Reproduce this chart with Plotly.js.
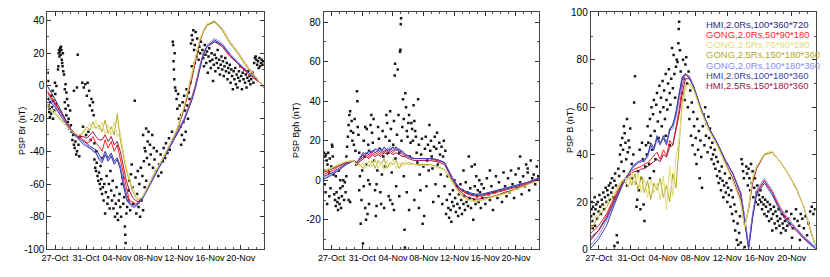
<!DOCTYPE html>
<html><head><meta charset="utf-8">
<script src="https://cdn.plot.ly/plotly-3.0.1.min.js"></script>
<style>html,body{margin:0;padding:0;background:#fff}#chart{width:830px;height:277px}</style>
</head><body><div id="chart"></div>
<script>
// x unit: days from the left edge of each panel (26-Oct-2018 .. 23-Nov-2018)
const dayGrid = [0,1,2,3,4, 4.4,4.8,5.2,5.6,6, 6.4,6.8,7.2,7.6,8, 8.4,8.8,9.2,9.6,10, 10.4,10.8,11.2,11.6,12, 12.5,13,14,15,16, 17,18,19,19.5,20, 20.5,21,22,23,24, 25,26,27,28,28.5];
const xTickVals = [1.02,5.09,9.16,13.23,17.3,21.38,25.45];
const xTickText = ['27-Oct','31-Oct','04-Nov','08-Nov','12-Nov','16-Nov','20-Nov'];

const modelNames = ['HMI,2.0Rs,100*360*720','GONG,2.0Rs,50*90*180','GONG,2.5Rs,75*90*180','GONG,2.5Rs,150*180*360','GONG,2.0Rs,100*180*360','HMI,2.0Rs,100*180*360','HMI,2.5Rs,150*180*360'];
const modelColors = ['#2b2b80','#ff1f1f','#e3dc78','#b3a82a','#8a8aff','#3f3fa6','#a3163f'];

// ---- Br models
const brHmi720  = [0,-8,-17,-26,-31, -33,-34,-35,-37,-38, -39,-42,-45,-40,-44, -41,-46,-44,-49,-58, -66,-71,-73,-73,-71, -68,-64,-55,-47,-38, -30,-21,-8,0,10, 19,24,28,25,19, 14,10,6,2,-1];
const brGong50  = [-3,-10,-18,-26,-31, -32,-33,-35,-34,-31, -35,-37,-40,-33,-38, -34,-40,-36,-45,-55, -62,-70,-71,-72,-72, -69,-64,-55,-47,-38, -29,-20,-7,1,11, 20,24,27,24,18, 14,9,5,2,-1];
const brGong75  = [-11,-16,-21,-27,-30, -29,-27,-26,-23,-26, -21,-27,-22,-30,-24, -30,-22,-31,-28,-40, -50,-56,-62,-66,-69, -68,-63,-54,-46,-37, -27,-12,8,18,28, 34,38,40,35,27, 21,14,8,2,-1];
const brGong150 = [-13,-17,-22,-27,-30, -30,-28,-25,-27,-22, -26,-24,-28,-21,-29, -25,-30,-17,-33,-42, -52,-58,-64,-68,-70, -68,-63,-54,-46,-37, -27,-13,7,17,27, 33,37,39,34,26, 20,13,7,2,-1];
const brGong100 = [-6,-12,-19,-27,-32, -33,-35,-36,-38,-39, -41,-44,-46,-41,-45, -42,-47,-45,-50,-60, -68,-72,-73,-73,-72, -69,-64,-55,-47,-38, -29,-20,-8,0,10, 20,25,29,26,20, 15,10,6,2,-1];
const brHmi180  = [-8,-13,-20,-27,-32, -34,-36,-37,-38,-40, -41,-45,-47,-42,-46, -43,-48,-45,-51,-61, -69,-72,-74,-74,-72, -69,-65,-56,-48,-39, -30,-21,-9,-1,9, 19,24,27,25,19, 14,10,6,2,-1];
const brHmi25   = [-4,-11,-18,-26,-31, -31,-31,-32,-30,-28, -31,-33,-33,-30,-34, -31,-36,-34,-40,-50, -58,-64,-68,-70,-71, -69,-64,-55,-46,-37, -28,-14,4,15,26, 33,37,39.5,35,27, 21,14,8,2,-1];

// ---- Bph models
const bphHmi720  = [2,3.5,6,8.5,10, 9,11,13,14,13, 15,14,15,16,14, 16,15,17,15,16, 14,13,12,11.5,11, 11,11,11,10.5,9, 1.5,-4.5,-6.5,-7,-7.5, -7.5,-7.5,-6.5,-5.5,-4.5, -3.5,-2.5,-1,0.5,1];
const bphGong50  = [3,4.5,7,9,10, 8.5,10,12,13,12, 14,13,14,13,15, 14,15,14,16,15, 13,12.5,12,11,11, 11,11,11,10,9, 1.5,-4.5,-7,-7.5,-8, -8,-8,-7,-6,-5, -4,-3,-1.5,0,1];
const bphGong75  = [5,6.5,8,9.5,10, 7.5,7,9,6,10, 7,11,6,9,5, 10,7,11,6,9, 7,10,8,8,8, 7.5,7.5,7.5,6.5,5, -1,-7,-10,-10.5,-10.5, -10.5,-10.3,-9,-8,-7, -5.5,-4,-2.5,-1,0];
const bphGong150 = [4.5,6,8,9.5,10, 8,8,6,9,7, 10,6,10,8,11, 6,9,8,10,6, 9,8,9,8.5,8, 8,8,8,7,5.5, -0.5,-6.5,-9.5,-10,-10.3, -10.3,-10,-8.5,-7.5,-6.5, -5,-3.5,-2,-0.5,0];
const bphGong100 = [1,3,5.5,8,10, 9,12,13,14,14, 15,15,16,15,16, 15,17,16,16,15, 14,13,12,11,11, 11,11,11,10.5,9, 1.5,-4,-6,-6.5,-7, -7,-7,-6,-5,-4, -3,-2,-1,0.5,1];
const bphHmi180  = [0.5,2.5,5,8,10, 9,11,14,13,15, 14,16,15,14,17, 15,16,15,17,14, 15,13,12.5,11.5,11, 11,11,11,10.5,9, 1,-4,-6,-6.5,-7, -7,-7,-6,-5,-4, -3,-2,-1,0.5,1];
const bphHmi25   = [4,5.5,7.5,9,10, 8,9.5,11,12,11, 13,12,13,12,14, 13,14,13,14,13, 12,12,11,10.5,10, 10,10,10,9.5,8, 0.5,-5.5,-8.5,-9,-9.5, -9.5,-9,-8.5,-7.5,-6, -5,-3.5,-2,-0.5,0.5];

// ---- |B| models
const bHmi720  = [5,8,13,20,27, 30,32,34,35.5,36.5, 37,38,39,45,43, 47,44,48,45,51, 52,58,65,72,74, 73,69,59,51,45, 38,32,24,13,1, 14,24,29,24,17, 12,9,5,2,0.5];
const bGong50  = [6.8,10,15,22,28, 30,31,33,34,34.5, 35,36,36.5,38,39.5, 41,38,42,39.5,46, 44,52,59,69,74, 73,69,59,51,45, 38,32,24,13,1, 14,24,29,24,17, 12,8.5,5,2,0.5];
const bGong75  = [11.8,15.3,19.5,24.5,29.5, 30,26,33,27,32, 24,30,22,29.5,23.8, 28,21,31,16.7,35, 22.4,39,46.5,60,67.5, 69.5,67.5,58,50,44, 36.5,29,20,9,18, 30,35,40.5,41.5,37, 32,26.5,18,6.5,1];
const bGong150 = [8.2,13.9,18,23,29, 28,31,27,32,25, 31,24,29,21,28, 25,30,22,27,20, 32,26,44,63,69, 70,68,58,50,44, 36.5,29,20,9,18, 30,35,40,41,37, 32,26,18,6,1];
const bGong100 = [1.8,6,12,19.5,27, 30,32,34,35.5,36.5, 37,38,39,43,42, 46,44,47,45,50, 51,56,63,70,74, 73,69,59,51,45, 38,32,24,14,2, 15,25,30,25,18, 13,9,5.5,2.5,0.5];
const bHmi180  = [0.5,4.5,10,19,27, 30,32,34.5,36,37, 37.5,37,40,44,42, 48,45,47,44,50, 53,57,66,73,74, 72,69,59,51,45, 38,32,23,12,0, 13,23,28,23,16, 11,8,4.5,1.5,0.3];
const bHmi25   = [4,8,14,21,28, 30,31,32,33,33, 34,34,35,36,37, 38,37,40,39,43, 44,50,57,66,72, 72,69,59,51,45, 37,30,21,10,17, 28,34,40,41,37, 32,26,18,6,1.5];

// ---- PSP observations [day, value]
const brObs = [[0.05,8],[0.1,3],[0.15,-8],[0.2,-12],[0.25,-16],[0.3,-14],[0.35,-19],[0.4,-10],[0.5,-17],[0.55,-6],[0.6,-13],[0.7,-3],[0.75,-20],[0.8,-9],[0.9,-15],[1.0,2],[1.05,-5],[1.1,-11],[1.2,0],
[1.4,10],[1.45,12],[1.5,20],[1.55,22],[1.6,18],[1.65,21],[1.7,23],[1.75,19],[1.8,24],[1.85,22],[1.9,16],[1.95,14],[2.0,12],[2.05,20],[2.1,9],[2.2,7],[2.3,-2],[2.4,1],[2.5,-4],
[2.3,-10],[2.4,-14],[2.5,-18],[2.6,-8],[2.7,-22],[2.75,-12],[2.8,-20],[2.9,-26],[3.0,-15],[3.1,-24],[3.2,-28],
[3.3,-33],[3.4,-30],[3.5,-36],[3.5,-3],[3.6,-38],[3.7,-34],[3.8,-42],[3.9,-40],[3.9,-1],[4.0,19],[4.1,-36],[4.2,-43],[4.3,-31],
[4.6,2],[4.7,-25],[4.8,-1],[5.0,1],[5.1,-30],[5.2,-6],[5.3,2],[5.4,-28],[5.5,-3],[5.6,-12],[5.7,-33],[5.8,-8],[5.9,-15],[6.0,-10],[6.1,-18],[6.2,-35],
[6.2,-45],[6.3,-50],[6.4,-52],[6.45,-40],[6.5,-47],[6.6,-55],[6.7,-58],[6.8,-53],[6.9,-60],[7.0,-63],[7.0,-49],[7.1,-57],[7.2,-66],[7.25,-44],[7.3,-62],[7.4,-70],[7.5,-60],[7.6,-78],[7.7,-65],[7.8,-55],[7.9,-72],[8.0,-68],[8.1,-60],[8.2,-75],[8.3,-52],[8.4,-64],[8.5,-70],
[8.6,-58],[8.7,-75],[8.8,-67],[8.9,-80],[9.0,-72],[9.1,-62],[9.2,-78],[9.3,-82],[9.4,-70],[9.5,-66],[9.6,-74],[9.7,-80],[9.8,-60],[9.9,-56],[10.0,-72],[10.1,-68],[10.2,-86],[10.25,-91],[10.3,-96],[10.4,-78],[10.5,-74],[10.6,-70],[10.7,-64],[10.8,-58],[10.9,-76],[11.0,-54],
[11.1,-48],[11.2,-62],[11.3,-72],[11.5,-9],[11.6,-56],[11.7,-78],[11.8,-66],[11.9,-52],[12.0,-74],[12.1,-60],[12.2,-80],[12.3,-50],[12.4,-70],[12.5,-55],[12.6,-76],[12.7,-46],[12.8,-62],[12.9,-40],[13.0,-58],
[12.6,-30],[12.8,-38],[13.0,-26],[13.1,-44],[13.2,-34],[13.3,-28],[13.4,-48],[13.5,-36],[13.6,-42],[13.8,-30],[13.9,-50],[14.0,-38],
[14.1,-45],[14.3,-52],[14.4,-40],[14.6,-55],[14.7,-48],[14.9,-42],[15.0,-53],[15.2,-46],[15.3,-38],[15.5,-44],[15.6,-35],[15.8,-41],[16.0,-32],[16.1,-39],
[16.4,-28],[16.5,27],[16.55,25],[16.6,15],[16.65,10],[16.7,4],[16.75,20],[16.8,-1],[16.9,-3],
[17.0,-8],[17.1,-14],[17.2,-5],[17.3,-20],[17.4,-12],[17.5,-25],[17.6,-18],[17.6,-36],[17.7,-30],[17.8,-10],[17.9,-22],[18.0,-6],[18.0,-33],[18.1,-15],[18.2,-28],[18.3,-2],[18.4,-12],[18.5,-20],[18.6,-4],[18.7,-8],[18.8,2],
[18.9,26],[19.0,31],[19.0,12],[19.1,28],[19.2,34],[19.3,22],[19.4,25],[19.4,14],[19.5,33],[19.6,18],[19.7,29],[19.8,21],[19.9,16],[20.0,24],[20.1,20],[20.2,27],
[20.4,22],[20.5,17],[20.6,12],[20.7,25],[20.8,19],[20.9,14],[21.0,21],[21.1,8],[21.2,18],[21.3,23],[21.4,15],[21.5,11],[21.6,20],[21.7,16],[21.8,3],[21.9,13],[22.0,19],[22.1,9],[22.2,17],[22.3,14],[22.4,22],[22.5,11],[22.6,16],[22.7,7],[22.8,13],[22.9,18],[23.0,10],[23.1,15],[23.2,6],[23.3,12],[23.4,17],[23.5,9],[23.6,14],[23.7,4],[23.8,11],[23.9,8],[24.0,13],[24.1,2],[24.2,10],[24.3,6],[24.4,-2],[24.5,9],
[24.6,4],[24.7,11],[24.8,1],[24.9,7],[25.0,-1],[25.1,5],[25.2,9],[25.3,3],[25.4,12],[25.5,6],[25.6,-2],[25.7,8],[25.8,4],[25.9,10],[26.0,2],[26.1,7],[26.2,-1],[26.3,5],[26.4,9],[26.5,3],[26.6,6],[26.7,1],[26.8,4],[27.0,8],[27.1,2],[27.2,14],[27.3,17],[27.4,18],[27.5,16],[27.6,13],[27.7,15],[27.8,11],[27.9,17],[28.0,12],[28.1,14],[28.2,16],[28.3,13],[28.4,15]];

const bphObs = [[0.05,14],[0.1,5],[0.15,-2],[0.2,12],[0.25,-6],[0.3,13],[0.4,10],[0.45,-12],[0.5,8],[0.6,14],[0.7,4],[0.75,-8],[0.8,11],[0.9,-4],[1.0,7],[1.1,18],[1.15,17],[1.2,12],[1.3,3],
[1.4,-7],[1.5,-10],[1.6,-13],[1.6,2],[1.7,-6],[1.8,-11],[1.9,-15],[2.0,-9],[2.0,5],[2.1,-12],[2.2,-4],[2.2,0],[2.3,-14],[2.4,-8],[2.5,-3],[2.6,0],[2.7,-10],[2.8,-1],[2.9,-6],
[3.0,12],[3.0,2],[3.1,17],[3.2,22],[3.3,28],[3.3,-10],[3.4,33],[3.5,35],[3.5,-11],[3.6,25],[3.7,30],[3.8,20],[3.9,24],[4.0,18],[4.1,31],[4.2,15],[4.3,8],[4.4,45],[4.45,40],[4.5,27],[4.6,23],[4.7,14],[4.8,2],
[4.7,-5],[4.9,-22],[5.0,-10],[5.1,5],[5.2,-32],[5.3,-3],[5.3,20],[5.4,12],[5.5,-14],[5.5,27],[5.6,-20],[5.7,8],[5.7,26],[5.8,-17],[5.9,0],[5.9,18],[6.0,-12],[6.0,15],
[6.1,-2],[6.2,28],[6.3,33],[6.4,24],[6.5,19],[6.6,31],[6.7,10],[6.8,-5],[6.9,-18],[7.0,-2],[7.0,-13],[7.1,5],[7.2,27],[7.3,21],[7.4,16],[7.5,-6],[7.6,-12],[7.7,3],[7.8,25],[7.9,12],[8.0,-14],[8.1,7],[8.2,22],[8.3,33],
[8.4,29],[8.5,14],[8.6,-8],[8.7,20],[8.8,35],[8.8,-10],[8.9,26],[9.0,4],[9.1,-12],[9.2,18],[9.3,30],[9.3,-15],[9.4,53],[9.45,59],[9.5,11],[9.6,-3],[9.7,23],[9.8,56],[9.9,33],[10.0,14],[10.0,-8],
[10.1,65],[10.15,66],[10.2,79],[10.25,82],[10.3,20],[10.4,27],[10.5,41],[10.6,31],[10.6,2],[10.7,-25],[10.75,-34],[10.8,44],[10.9,37],[11.0,25],[11.0,-6],[11.1,22],[11.2,29],[11.3,33],[11.3,-15],[11.4,12],[11.5,19],
[11.6,29],[11.7,26],[11.8,20],[11.9,38],[12.0,30],[12.0,-10],[12.1,25],[12.2,22],[12.3,14],[12.4,9],[12.5,41],[12.6,18],[12.6,-14],[12.7,3],[12.8,-5],[12.9,13],[13.0,21],[13.1,-22],[13.2,7],[13.3,-18],[13.4,16],[13.5,22],[13.6,-3],[13.7,10],[13.8,18],[13.9,5],[14.0,28],
[14.1,15],[14.2,20],[14.3,12],[14.4,6],[14.5,-11],[14.6,17],[14.7,22],[14.8,-2],[14.9,16],[15.0,24],[15.1,8],[15.2,-8],[15.3,19],[15.4,13],[15.5,3],[15.6,17],[15.7,-12],[15.8,12],[15.9,20],[16.0,-3],[16.1,15],[16.2,-17],[16.3,-10],[16.4,2],[16.5,-14],[16.6,-19],[16.7,-7],[16.8,-15],[16.9,-21],[17.0,-11],
[17.1,-5],[17.2,-13],[17.3,0],[17.4,-9],[17.5,-16],[17.6,-3],[17.7,-12],[17.8,-18],[17.9,-7],[18.0,-14],[18.1,-2],[18.2,-10],[18.3,-17],[18.4,-5],[18.5,-12],[18.5,5],[18.6,-8],[18.7,-15],[18.8,-1],[18.9,-11],[19.0,-6],[19.1,-13],[19.2,12],[19.3,-9],[19.4,-4],[19.5,-14],[19.6,7],[19.7,-7],[19.8,-20],[19.9,-10],[20.0,-3],[20.0,8],[20.1,-12],[20.2,2],[20.3,-8],[20.4,-5],[20.5,-11],[20.6,0],[20.7,-6],[20.8,-14],[20.9,-2],[21.0,-9],
[21.2,-4],[21.4,-12],[21.6,1],[21.8,-7],[22.0,-10],[22.0,5],[22.2,-3],[22.4,-15],[22.6,-6],[22.8,2],[23.0,-9],[23.2,-1],[23.4,-5],[23.6,-11],[23.8,4],[24.0,-3],[24.2,-8],[24.4,1],[24.6,-6],[24.8,5],[25.0,-2],[25.2,-9],[25.4,3],[25.6,-4],[25.8,6],[26.0,-1],[26.0,12],[26.2,-7],[26.4,2],[26.6,-3],[26.8,8],[27.0,4],[27.0,6],[27.2,-5],[27.4,10],[27.6,1],[27.8,3],[28.0,-2],[28.2,7],[28.4,2]];

const bObs = [[0.05,14],[0.1,17],[0.15,20],[0.2,12],[0.25,9],[0.3,18],[0.4,15],[0.5,22],[0.55,10],[0.6,17],[0.7,19],[0.8,13],[0.9,20],[1.0,16],[1.1,23],[1.2,18],[1.3,15],[1.4,21],[1.5,19],[1.6,24],[1.7,17],[1.8,22],[1.9,26],[2.0,20],
[2.1,25],[2.2,23],[2.3,27],[2.4,21],[2.5,28],[2.6,24],[2.7,30],[2.8,26],[2.9,22],[3.0,29],[3.0,1.5],[3.1,32],[3.2,27],[3.3,6],[3.4,3],[3.5,34],[3.6,31],
[3.7,40],[3.8,44],[3.9,37],[4.0,47],[4.1,42],[4.2,52],[4.2,33],[4.3,49],[4.4,45],[4.5,38],[4.6,55],[4.6,27],[4.7,41],[4.8,46],[4.9,43],[5.0,51],
[5.2,36],[5.3,30],[5.4,40],[5.5,62],[5.6,73],[5.7,28],[5.8,18],[5.9,21],[6.0,33],[6.1,25],[6.2,42],[6.3,17],[6.4,30],[6.5,45],[6.6,38],[6.7,19],[6.8,12],[6.9,35],[7.0,44],[7.1,40],
[7.2,52],[7.3,45],[7.4,36],[7.5,55],[7.5,30],[7.6,48],[7.7,60],[7.8,42],[7.9,57],[8.0,63],[8.0,33],[8.1,50],[8.2,38],[8.3,61],[8.4,66],[8.5,54],[8.6,47],[8.7,69],[8.8,58],[8.9,64],[9.0,52],[9.1,71],[9.2,60],
[9.3,67],[9.4,55],[9.5,74],[9.5,48],[9.6,63],[9.7,59],[9.8,70],[9.9,76],[10.0,66],[10.0,44],[10.1,61],[10.2,72],[10.3,85],[10.4,68],[10.5,82],[10.6,74],[10.7,64],[10.8,77],[10.9,80],[11.0,79],[11.1,87],[11.15,93],[11.2,96],[11.3,84],[11.4,75],[11.5,69],
[11.6,66],[11.7,80],[11.8,72],[11.9,63],[12.0,78],[12.1,81],[12.2,70],[12.3,60],[12.4,75],[12.5,55],[12.6,67],[12.7,48],[12.8,62],[12.9,44],[13.0,58],[13.1,52],[13.2,40],
[13.3,47],[13.4,36],[13.5,55],[13.6,42],[13.7,50],[13.8,30],[13.9,46],[14.0,39],[14.1,26],[14.2,52],[14.3,57],[14.4,44],[14.5,60],[14.6,48],[14.7,53],[14.8,41],[14.9,56],[15.0,47],
[15.1,51],[15.2,43],[15.3,38],[15.4,45],[15.5,40],[15.6,36],[15.7,42],[15.8,34],[15.9,39],[16.0,31],[16.1,37],[16.2,28],[16.3,33],[16.4,30],[16.5,25],[16.6,35],[16.7,29],[16.8,22],[16.9,27],[17.0,32],
[17.1,24],[17.2,28],[17.3,20],[17.4,26],[17.5,23],[17.6,30],[17.7,18],[17.8,25],[17.9,15],[18.0,22],[18.1,12],[18.2,19],[18.3,8],[18.4,16],[18.5,4],[18.6,11],[18.7,2],[18.8,7],[18.9,14],[19.0,3],[19.1,38],[19.2,36],[19.3,33],[19.4,30],[19.5,1],
[19.7,35],[19.8,32],[19.9,27],[20.0,34],[20.1,30],[20.2,25],[20.3,36],[20.4,28],[20.5,33],[20.6,22],[20.7,26],[20.8,30],[20.9,20],[21.0,24],[21.1,27],[21.2,19],[21.3,23],[21.4,21],[21.5,25],
[21.6,20],[21.7,17],[21.8,22],[21.9,19],[22.0,15],[22.1,21],[22.2,18],[22.3,14],[22.4,20],[22.5,16],[22.6,12],[22.7,19],[22.8,17],[22.9,13],[23.0,8],[23.1,15],[23.2,18],[23.3,11],[23.4,16],[23.5,9],[23.6,14],[23.7,12],[23.8,17],[23.9,10],[24.0,13],[24.1,7],[24.2,15],[24.3,11],[24.4,9],[24.5,14],[24.6,12],[24.7,8],[24.8,16],[24.9,10],
[25.0,13],[25.2,11],[25.4,15],[25.5,5],[25.6,9],[25.8,13],[26.0,17],[26.2,12],[26.4,10],[26.5,4],[26.6,15],[26.8,13],[27.0,9],[27.2,14],[27.4,6],[27.6,11],[27.8,16],[28.0,18],[28.2,15],[28.4,17]];

const brTickVals = [-100,-80,-60,-40,-20,0,20,40];
const brTickText = ['-100','-80','-60','-40','-20','0','20','40'];
const bphTickVals = [-20,0,20,40,60,80];
const bphTickText = ['-20','0','20','40','60','80'];
const bTickVals = [0,20,40,60,80,100];
const bTickText = ['0','20','40','60','80','100'];

const panels = [
  {obs: brObs, models: [brHmi720,brGong50,brGong75,brGong150,brGong100,brHmi180,brHmi25], xa:'x', ya:'y'},
  {obs: bphObs, models: [bphHmi720,bphGong50,bphGong75,bphGong150,bphGong100,bphHmi180,bphHmi25], xa:'x2', ya:'y2'},
  {obs: bObs, models: [bHmi720,bGong50,bGong75,bGong150,bGong100,bHmi180,bHmi25], xa:'x3', ya:'y3'}
];
const drawOrder = [0,1,6,4,5,3,2];

const traces = [];
panels.forEach(p => {
  traces.push({type:'scatter', mode:'markers', x:p.obs.map(d=>d[0]), y:p.obs.map(d=>d[1]),
    xaxis:p.xa, yaxis:p.ya, marker:{symbol:'square', size:2.5, color:'#151515'}, showlegend:false, hoverinfo:'skip'});
  drawOrder.forEach(i => {
    traces.push({type:'scatter', mode:'lines', x:dayGrid, y:p.models[i], xaxis:p.xa, yaxis:p.ya,
      line:{color:modelColors[i], width:1}, name:modelNames[i], showlegend:false, hoverinfo:'skip'});
  });
});

const tickFontY = {family:'Liberation Sans, Arial, sans-serif', size:10, color:'#000'};
const tickFontX = {family:'Liberation Sans, Arial, sans-serif', size:9, color:'#000'};
function xAxis(domain, anchor){
  return {domain:domain, anchor:anchor, range:[0,28.5], tickmode:'array', tickvals:xTickVals, ticktext:xTickText,
    tickangle:0, ticks:'inside', ticklen:4, tickcolor:'#333', showline:true, linecolor:'#444', linewidth:1, mirror:'ticks',
    showgrid:false, zeroline:false, tickfont:tickFontX,
    minor:{tickmode:'linear', tick0:1.02, dtick:1.018, ticks:'inside', ticklen:2, tickcolor:'#555', showgrid:false}};
}
function yAxis(range, tv, tt, anchor){
  return {domain:[0.0993,0.9556], anchor:anchor, range:range, tickmode:'array', tickvals:tv, ticktext:tt,
    ticks:'inside', ticklen:4, tickcolor:'#333', showline:true, linecolor:'#444', linewidth:1, mirror:'ticks',
    showgrid:false, zeroline:false, tickfont:tickFontY,
    minor:{tickmode:'linear', tick0:0, dtick:10, ticks:'inside', ticklen:2, tickcolor:'#555', showgrid:false}};
}

const titleFont = {family:'Liberation Sans, Arial, sans-serif', size:9, color:'#000'};
const annotations = [
  {text:'PSP Br (nT)', x:22/830, y:0.527, xref:'paper', yref:'paper', textangle:-90, showarrow:false, font:titleFont, xanchor:'center', yanchor:'middle'},
  {text:'PSP Bph (nT)', x:296/830, y:0.527, xref:'paper', yref:'paper', textangle:-90, showarrow:false, font:titleFont, xanchor:'center', yanchor:'middle'},
  {text:'PSP B (nT)', x:570/830, y:0.527, xref:'paper', yref:'paper', textangle:-90, showarrow:false, font:titleFont, xanchor:'center', yanchor:'middle'}
];
const legendTop = [24.3,34.5,44.7,55,65,75.3,85.3];
modelNames.forEach((n,i) => {
  annotations.push({text:n, x:704/830, y:1-legendTop[i]/277, xref:'paper', yref:'paper', showarrow:false,
    xanchor:'left', yanchor:'middle', font:{family:'Liberation Sans, Arial, sans-serif', size:9.5, color:modelColors[i]}});
});

const layout = {
  width:830, height:277, margin:{l:0,r:0,t:0,b:0}, paper_bgcolor:'#fff', plot_bgcolor:'#fff', showlegend:false,
  xaxis: xAxis([0.057,0.3181],'y'),
  xaxis2: xAxis([0.39,0.6494],'y2'),
  xaxis3: xAxis([0.7117,0.9828],'y3'),
  yaxis: yAxis([-100,45], brTickVals, brTickText, 'x'),
  yaxis2: yAxis([-35,85], bphTickVals, bphTickText, 'x2'),
  yaxis3: yAxis([0,100], bTickVals, bTickText, 'x3'),
  annotations: annotations
};
Plotly.newPlot('chart', traces, layout, {displayModeBar:false, staticPlot:true});
</script></body></html>
